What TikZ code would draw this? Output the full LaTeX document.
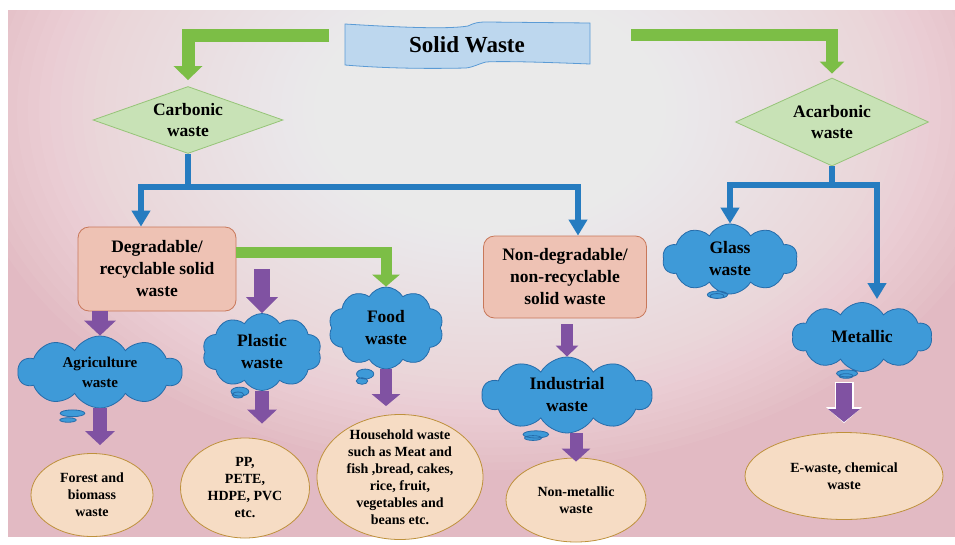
\documentclass[tikz,border=0pt]{standalone}
\usepackage{fontspec}
\setmainfont{Liberation Serif}
\usetikzlibrary{arrows.meta, shapes.geometric, shapes.symbols, shapes.callouts, positioning}

\definecolor{bgpink}{RGB}{226,186,195}
\definecolor{bannerfill}{RGB}{189,215,238}
\definecolor{banneredge}{RGB}{91,155,213}
\definecolor{diamondfill}{RGB}{200,226,182}
\definecolor{diamondedge}{RGB}{150,196,120}
\definecolor{boxfill}{RGB}{238,194,180}
\definecolor{boxedge}{RGB}{200,120,90}
\definecolor{cloudfill}{RGB}{62,154,216}
\definecolor{cloudedge}{RGB}{38,108,170}
\definecolor{ellfill}{RGB}{246,220,196}
\definecolor{elledge}{RGB}{190,145,60}
\definecolor{linkblue}{RGB}{38,124,192}
\definecolor{linkgreen}{RGB}{124,190,70}
\definecolor{linkpurple}{RGB}{128,82,162}

\tikzset{
  decision/.style={diamond, draw=diamondedge, fill=diamondfill, line width=0.8pt,
    inner sep=0pt, shape aspect=2.8, align=center, font=\bfseries\fontsize{17.5}{21}\selectfont},
  category/.style={rectangle, rounded corners=11pt, draw=boxedge, fill=boxfill, line width=0.8pt,
    inner sep=0pt, align=center, font=\bfseries\fontsize{17.5}{22}\selectfont},
  subtype/.style={cloud callout, cloud puffs=10, cloud puff arc=120, cloud ignores aspect,
    callout pointer segments=2,
    draw=cloudedge, fill=cloudfill, line width=0.8pt, inner sep=0pt, align=center,
    font=\bfseries\fontsize{17.5}{22}\selectfont},
  items/.style={ellipse, draw=elledge, fill=ellfill, line width=0.8pt, inner sep=0pt,
    align=center, font=\bfseries\fontsize{14}{17}\selectfont},
  bluelink/.style={draw=linkblue, line width=6pt, -{Triangle[width=18pt,length=16pt]}},
  greenlink/.style={draw=linkgreen, line width=13pt, -{Triangle[width=28pt,length=14pt]}},
  purplelink/.style={draw=linkpurple, line width=14pt, -{Triangle[width=29pt,length=14pt]}}
}

\begin{document}
\begin{tikzpicture}[x=1pt,y=-1pt]
\useasboundingbox (0,0) rectangle (955,544);
% background
\fill[white] (0,0) rectangle (955,544);
\fill[bgpink] (8,10) rectangle (955,537);
\begin{scope}
\clip (8,10) rectangle (955,537);
\foreach \k in {1,...,48}
  \fill[white, opacity=0.047] (490,110) ellipse ({11*\k} and {7.5*\k});
\end{scope}

% title banner
\draw[banneredge, fill=bannerfill, line width=0.8pt] (345,24) .. controls (410,28) and (450,29) .. (468,26)
  .. controls (474,23) and (478,22) .. (486,22) -- (590,23) -- (590,64)
  .. controls (540,62) and (500,61) .. (486,62) .. controls (478,64) and (474,67) .. (466,68)
  .. controls (420,69) and (380,68) .. (345,65) -- cycle;
\node[font=\bfseries\fontsize{23}{26}\selectfont] (title) at (467,45) {Solid Waste};

% main groups
\node[decision, minimum width=190pt, minimum height=67pt] (carb) at (188,120) {Carbonic\\waste};
\node[decision, minimum width=193pt, minimum height=88pt] (acarb) at (832,122) {Acarbonic\\waste};
\node[category, minimum width=158pt, minimum height=84pt] (degr) at (157,269) {Degradable/\\recyclable solid\\waste};
\node[category, minimum width=163pt, minimum height=82pt] (nondeg) at (565,277) {Non-degradable/\\non-recyclable\\solid waste};

% kinds of waste
\node[subtype, minimum width=164pt, minimum height=72pt, font=\bfseries\fontsize{15}{20}\selectfont,
  callout absolute pointer={(68,420)}] (agri) at (100,372) {Agriculture\\waste};
\node[subtype, minimum width=119pt, minimum height=77pt, callout absolute pointer={(238,395)}] (plast) at (262,352) {Plastic\\waste};
\node[subtype, minimum width=115pt, minimum height=82pt, callout absolute pointer={(362,381)}] (food) at (386,328) {Food\\waste};
\node[subtype, minimum width=170pt, minimum height=76pt, callout absolute pointer={(533,438)}] (indus) at (567,395) {Industrial\\waste};
\node[subtype, minimum width=135pt, minimum height=70pt, callout absolute pointer={(717,296)}] (glass) at (730,259) {Glass\\waste};
\node[subtype, minimum width=140pt, minimum height=69pt, callout absolute pointer={(846,376)}] (metal) at (862,337) {Metallic};

% examples
\node[items, minimum width=122pt, minimum height=83pt] (forest) at (92,495) {Forest and\\biomass\\waste};
\node[items, minimum width=129pt, minimum height=100pt] (pp) at (245,488) {PP,\\PETE,\\HDPE, PVC\\etc.};
\node[items, minimum width=166pt, minimum height=125pt, inner xsep=-4pt, inner ysep=-10pt] (house) at (400,477)
  {Household waste\\such as Meat and\\fish ,bread, cakes,\\rice, fruit,\\vegetables and\\beans etc.};
\node[items, minimum width=140pt, minimum height=84pt] (nonmet) at (576,500) {Non-metallic\\waste};
\node[items, minimum width=198pt, minimum height=87pt] (ewaste) at (844,476) {E-waste, chemical\\waste};

% green links
\coordinate (gleft) at (329,35);
\coordinate (gright) at (631,35);
\draw[greenlink] (gleft) -| ([yshift=6pt]carb.north);
\draw[greenlink, line width=12pt, -{Triangle[width=24pt,length=12pt]}] (gright) -| ([yshift=4pt]acarb.north);
\draw[greenlink, line width=11pt, -{Triangle[width=27pt,length=12pt]}] ([yshift=17pt]degr.east) -| (food.north);

% blue links
\coordinate (cjoin) at (carb.south |- 0,187);
\coordinate (ajoin) at (acarb.south |- 0,185);
\draw[bluelink] (carb.south) -- (cjoin) -| ([xshift=-16pt]degr.north);
\draw[bluelink] (cjoin) -| ([xshift=13pt]nondeg.north);
\draw[bluelink] (acarb.south) -- (ajoin) -| (glass.north);
\draw[bluelink] (ajoin) -| ([xshift=15pt,yshift=3pt]metal.north);

% purple links
\draw[purplelink, line width=16pt, -{Triangle[width=31pt,length=15pt]}] (agri.north |- degr.south) -- (agri.north);
\draw[purplelink, line width=16pt, -{Triangle[width=31pt,length=16pt]}] (plast.north |- degr.center) -- (plast.north);
\draw[purplelink] (agri.south) -- ([yshift=8pt]agri.south |- forest.north);
\draw[purplelink] (plast.south) -- ([yshift=14pt]plast.south |- pp.north);
\draw[purplelink, line width=12pt, -{Triangle[width=28pt,length=12pt]}] (food.south) -- ([yshift=8pt]food.south |- house.north);
\draw[purplelink, line width=12pt, -{Triangle[width=22pt,length=11pt]}] ([yshift=-6pt]indus.north |- nondeg.south) -- (indus.north);
\draw[purplelink, line width=13pt, -{Triangle[width=28pt,length=13pt]}] (indus.south -| nonmet.north) -- ([yshift=-4pt]nonmet.north);
\draw[white, line width=19pt, -{Triangle[width=35pt,length=16pt]}] ([yshift=-10pt]metal.south -| ewaste.north) -- ([yshift=9pt]ewaste.north);
\draw[purplelink, line width=16pt, -{Triangle[width=31pt,length=13pt]}] ([yshift=-11pt]metal.south -| ewaste.north) -- ([yshift=10pt]ewaste.north);
\end{tikzpicture}
\end{document}
